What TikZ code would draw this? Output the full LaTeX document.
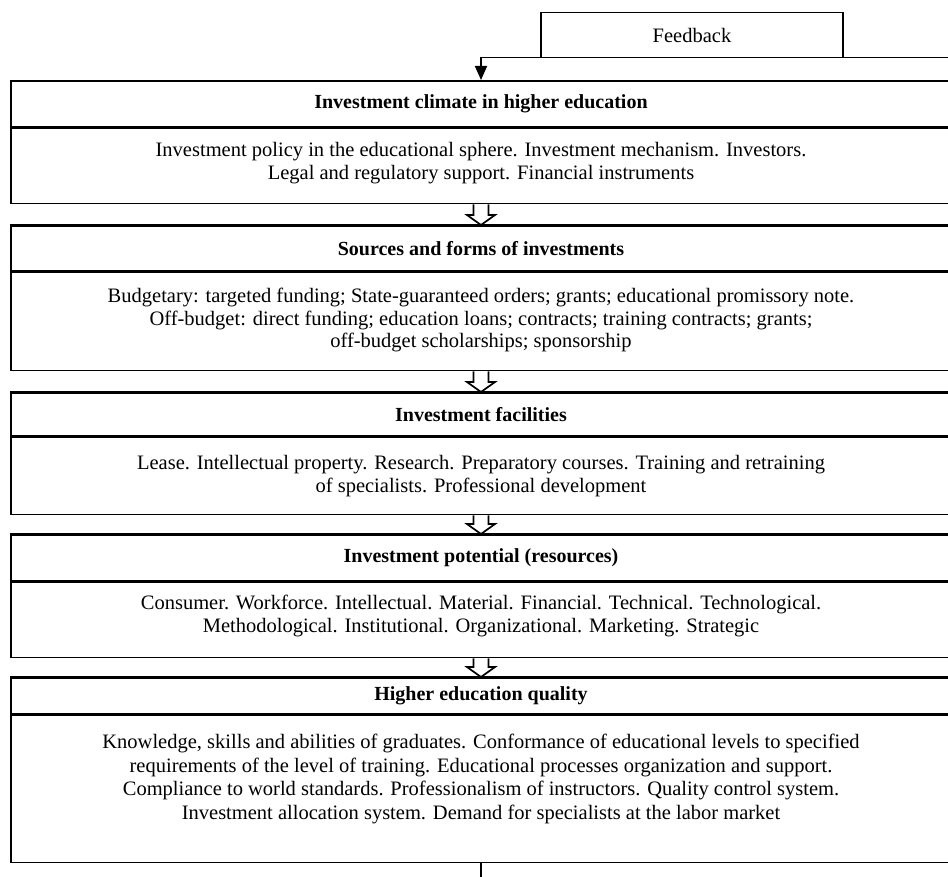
\documentclass[tikz,border=0pt]{standalone}
\usepackage{fontspec}
\setmainfont{Liberation Serif}
\usetikzlibrary{calc,arrows.meta}
\tikzset{
  boxline/.style={draw=black, line width=1.7pt},
  titlebox/.style={boxline, rectangle, anchor=north, minimum width=940pt, inner sep=0pt,
    font=\fontsize{20}{23}\selectfont\bfseries, align=center},
  bodybox/.style={boxline, rectangle, anchor=north, minimum width=940pt, inner sep=0pt,
    font=\fontsize{20.5}{22.8}\selectfont, align=center},
  fbbox/.style={draw=black, line width=1.6pt, rectangle, minimum width=302pt, minimum height=45pt,
    inner sep=0pt, font=\fontsize{20.5}{23}\selectfont},
  fbline/.style={draw=black, line width=1.6pt},
  dblarrow/.style={draw=black, line width=1.7pt, fill=white, line join=miter},
}
\begin{document}
\begin{tikzpicture}[x=1pt,y=1pt]
\useasboundingbox (0,0) rectangle (948,-877);
\clip (0,0) rectangle (948,-877);

% feedback
\node[fbbox] (fb) at (692,-35.2) {Feedback};
\coordinate (fbR) at (970,-57.7);

% box 1
\node[titlebox, minimum height=45.7pt] (t1) at (481,-80) {Investment climate in higher education};
\node[bodybox, minimum height=75.3pt, text depth=10.4pt] (b1) at (t1.south) {Investment policy in the educational sphere. Investment mechanism. Investors.\\Legal and regulatory support. Financial instruments};

% box 2
\node[titlebox, minimum height=45pt] (t2) at (481,-225) {Sources and forms of investments};
\node[bodybox, minimum height=98pt, text depth=7.4pt, font=\fontsize{20.5}{22.2}\selectfont] (b2) at (t2.south) {Budgetary: targeted funding; State-guaranteed orders; grants; educational promissory note.\\Off-budget: direct funding; education loans; contracts; training contracts; grants;\\off-budget scholarships; sponsorship};

% box 3
\node[titlebox, minimum height=43pt] (t3) at (481,-392) {Investment facilities};
\node[bodybox, minimum height=77pt, text depth=4.4pt, font=\fontsize{20.5}{22.2}\selectfont] (b3) at (t3.south) {Lease. Intellectual property. Research. Preparatory courses. Training and retraining\\of specialists. Professional development};

% box 4
\node[titlebox, minimum height=46pt] (t4) at (481,-534) {Investment potential (resources)};
\node[bodybox, minimum height=75pt, text depth=12.4pt] (b4) at (t4.south) {Consumer. Workforce. Intellectual. Material. Financial. Technical. Technological.\\Methodological. Institutional. Organizational. Marketing. Strategic};

% box 5
\node[titlebox, minimum height=36pt] (t5) at (481,-677) {Higher education quality};
\node[bodybox, minimum height=147pt, text depth=24.4pt, font=\fontsize{20.5}{23.5}\selectfont] (b5) at (t5.south) {Knowledge, skills and abilities of graduates. Conformance of educational levels to specified\\requirements of the level of training. Educational processes organization and support.\\Compliance to world standards. Professionalism of instructors. Quality control system.\\Investment allocation system. Demand for specialists at the labor market};

\coordinate (out) at (481,-900);

% feedback connector
\draw[fbline, -{Triangle[width=12pt,length=14pt]}] (fbR) -- (t1.north |- fbR) -- (t1.north);

% double arrows
\foreach \a/\b in {b1/t2, b2/t3, b3/t4, b4/t5}{
  \draw[dblarrow] ($(\a.south)+(-7.5,0)$) -- ($(\b.north)+(-7.5,10)$) -- ($(\b.north)+(-14,10)$)
    -- (\b.north) -- ($(\b.north)+(14,10)$) -- ($(\b.north)+(7.5,10)$) -- ($(\a.south)+(7.5,0)$);
}
% redraw box borders on top of arrows
\foreach \n in {t2,t3,t4,t5}{
  \draw[boxline] (\n.north west) -- (\n.north east);
}

% outgoing line
\draw[fbline] (b5.south) -- (out);
\end{tikzpicture}
\end{document}
